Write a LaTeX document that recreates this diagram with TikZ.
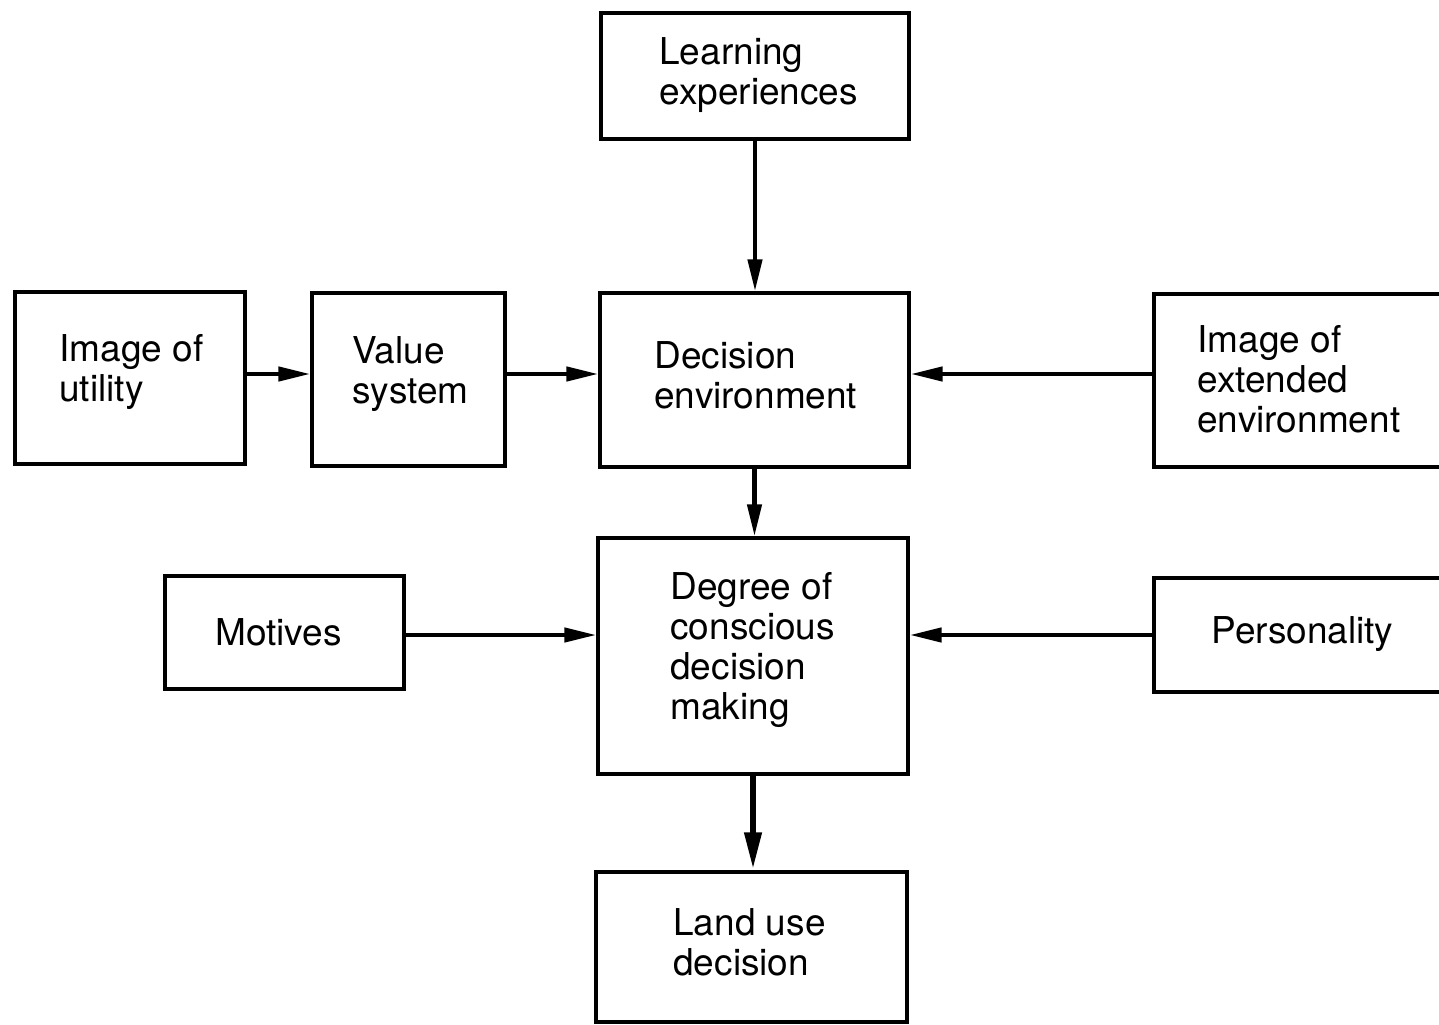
\documentclass[tikz,border=0pt]{standalone}
\usepackage{fontspec}
\setmainfont{TeX Gyre Heros}
\usetikzlibrary{arrows.meta,fit}
\begin{document}
\begin{tikzpicture}[x=0.5pt,y=-0.5pt,
  box/.style={draw, line width=1.6pt, inner sep=0pt},
  lbl/.style={anchor=west, inner sep=0pt, align=left,
              font=\fontsize{18.5}{20}\selectfont},
  arr/.style={line width=2.2pt, -{Triangle[length=16pt,width=7pt]}},
  bigarr/.style={line width=3.4pt, -{Triangle[length=19pt,width=8pt]}}]
\useasboundingbox (0,0) rectangle (1439,1024);
\fill[white] (0,0) rectangle (1439,1024);

% boxes
\node[box, fit={(601,13) (909,139)}]   (le) {};
\node[box, fit={(15,292) (245,464)}]   (iu) {};
\node[box, fit={(312,293) (505,466)}]  (vs) {};
\node[box, fit={(600,293) (909,467)}]  (de) {};
\node[box, fit={(1154,294) (1460,467)}] (ie) {};
\node[box, fit={(165,576) (404,689)}]  (mo) {};
\node[box, fit={(598,538) (908,774)}]  (dg) {};
\node[box, fit={(1154,578) (1460,692)}] (pe) {};
\node[box, fit={(596,872) (907,1022)}] (lu) {};

% labels
\node[lbl] (tle) at (659,75)  {Learning\\experiences};
\node[lbl] (tiu) at (59,372)  {Image of\\utility};
\node[lbl] (tvs) at (352,374) {Value\\system};
\node[lbl] (tde) at (654,375) {Decision\\environment};
\node[lbl] (tie) at (1197,379) {Image of\\extended\\environment};
\node[lbl] (tmo) at (215,632) {Motives};
\node[lbl] (tdg) at (670,650) {Degree of\\conscious\\decision\\making};
\node[lbl] (tpe) at (1211,634) {Personality};
\node[lbl] (tlu) at (673,942) {Land use\\decision};

% rows of the horizontal connectors
\coordinate (rowA) at (0,374);
\coordinate (rowB) at (0,635);

% connectors
\draw[arr] (le.south) -- (le.south |- de.north);
\draw[arr] (iu.east |- rowA) -- (vs.west |- rowA);
\draw[arr] (vs.east |- rowA) -- (de.west |- rowA);
\draw[arr] (ie.west |- rowA) -- (de.east |- rowA);
\draw[arr] (de.south) -- (de.south |- dg.north);
\draw[arr] (mo.east |- rowB) -- (dg.west |- rowB);
\draw[arr] (pe.west |- rowB) -- (dg.east |- rowB);
\draw[bigarr] (dg.south) -- (dg.south |- lu.north);
\end{tikzpicture}
\end{document}
